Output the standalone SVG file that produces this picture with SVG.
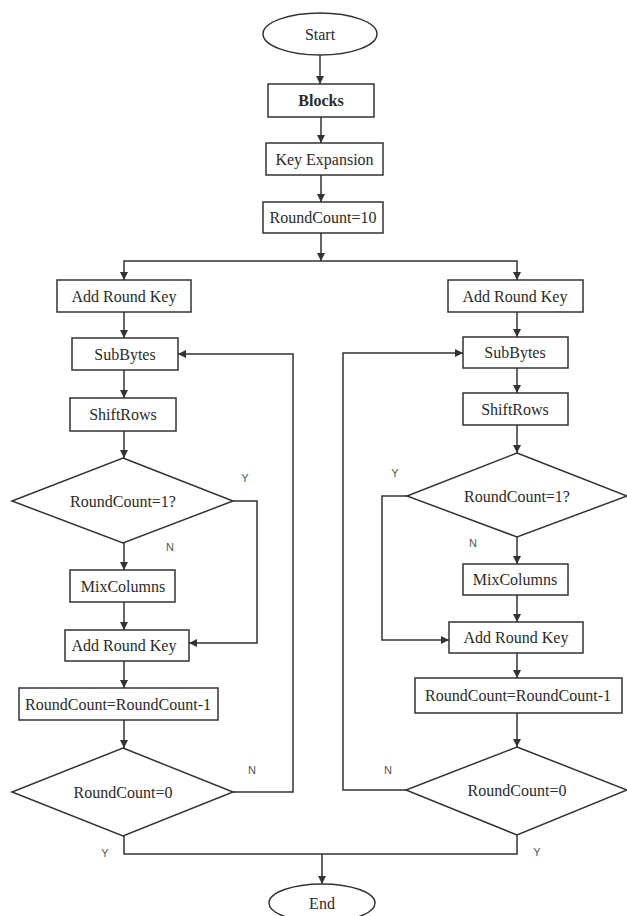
<svg xmlns="http://www.w3.org/2000/svg" width="627" height="916" viewBox="0 0 627 916">
<defs>
<marker id="ah" viewBox="0 0 10 10" refX="10" refY="5" markerWidth="8" markerHeight="8" markerUnits="userSpaceOnUse" orient="auto">
<path d="M0,0 L10,5 L0,10 z" fill="#333"/>
</marker>
</defs>
<style>
.shape{fill:#fff;stroke:#333;stroke-width:1.5}
.t{font-family:"Liberation Serif","Times New Roman",serif;font-size:16px;fill:#2a2a2a;text-anchor:middle;dominant-baseline:central}
.b{font-weight:bold}
.lab{font-family:"Liberation Sans",Arial,sans-serif;font-size:11px;fill:#555;text-anchor:middle;dominant-baseline:central}
.c{fill:none;stroke:#333;stroke-width:1.5}
.a{marker-end:url(#ah)}
</style>
<rect width="627" height="916" fill="#fff"/>
<g id="connectors">
<path class="c a" d="M320,55 V84"/>
<path class="c a" d="M321,117 V143"/>
<path class="c a" d="M321,175 V202"/>
<path class="c a" d="M321,233 V261"/>
<path class="c a" d="M321,261 H124 V280"/>
<path class="c a" d="M321,261 H517 V280"/>
<path class="c a" d="M124,312 V338"/>
<path class="c a" d="M124,370 V398"/>
<path class="c a" d="M124,431 V458"/>
<path class="c a" d="M124,543 V570"/>
<path class="c a" d="M233,501 H257 V643 H189"/>
<path class="c a" d="M124,602 V630"/>
<path class="c a" d="M124,661 V688"/>
<path class="c a" d="M124,720 V748"/>
<path class="c a" d="M233,792 H293 V354 H178"/>
<path class="c" d="M124,836 V854 H517 V835"/>
<path class="c a" d="M322,854 V884"/>
<path class="c a" d="M517,312 V337"/>
<path class="c a" d="M517,368 V393"/>
<path class="c a" d="M517,425 V453"/>
<path class="c a" d="M517,537 V564"/>
<path class="c a" d="M407,496 H382 V640 H449"/>
<path class="c a" d="M517,595 V622"/>
<path class="c a" d="M517,653 V678"/>
<path class="c a" d="M517,713 V747"/>
<path class="c a" d="M406,790 H343 V353 H463"/>
</g>
<g id="labels">
<text class="lab" x="245" y="478">Y</text>
<text class="lab" x="170" y="547">N</text>
<text class="lab" x="252" y="770">N</text>
<text class="lab" x="105" y="853">Y</text>
<text class="lab" x="395" y="473">Y</text>
<text class="lab" x="473" y="543">N</text>
<text class="lab" x="388" y="770">N</text>
<text class="lab" x="537" y="852">Y</text>
</g>
<g id="start"><ellipse class="shape" cx="320" cy="34" rx="57" ry="21"/><text class="t" x="320" y="34">Start</text></g>
<g id="blocks"><rect class="shape" x="268" y="84" width="106" height="33"/><text class="t b" x="321" y="100.5">Blocks</text></g>
<g id="keyexp"><rect class="shape" x="266" y="143" width="117" height="32"/><text class="t" x="324.5" y="159">Key Expansion</text></g>
<g id="rc10"><rect class="shape" x="263" y="202" width="120" height="31"/><text class="t" x="323" y="217.5">RoundCount=10</text></g>
<g id="ark1l"><rect class="shape" x="57" y="280" width="134" height="32"/><text class="t" x="124" y="296">Add Round Key</text></g>
<g id="subl"><rect class="shape" x="72" y="338" width="106" height="32"/><text class="t" x="125" y="354">SubBytes</text></g>
<g id="shiftl"><rect class="shape" x="70" y="398" width="106" height="33"/><text class="t" x="123" y="414.5">ShiftRows</text></g>
<g id="dec1l"><polygon class="shape" points="123,458 233,501 123,543 12,501"/><text class="t" x="123" y="501">RoundCount=1?</text></g>
<g id="mixl"><rect class="shape" x="70" y="570" width="105" height="32"/><text class="t" x="123" y="586">MixColumns</text></g>
<g id="ark2l"><rect class="shape" x="65" y="630" width="124" height="31"/><text class="t" x="124" y="645.5">Add Round Key</text></g>
<g id="decl"><rect class="shape" x="19" y="688" width="199" height="32"/><text class="t" x="118" y="704">RoundCount=RoundCount-1</text></g>
<g id="dec0l"><polygon class="shape" points="123,748 233,792 123,836 12,792"/><text class="t" x="123" y="792">RoundCount=0</text></g>
<g id="ark1r"><rect class="shape" x="448" y="280" width="135" height="32"/><text class="t" x="515" y="296">Add Round Key</text></g>
<g id="subr"><rect class="shape" x="463" y="337" width="105" height="31"/><text class="t" x="515" y="352.5">SubBytes</text></g>
<g id="shiftr"><rect class="shape" x="463" y="393" width="105" height="32"/><text class="t" x="515" y="409">ShiftRows</text></g>
<g id="dec1r"><polygon class="shape" points="517,453 627,496 517,537 407,496"/><text class="t" x="517" y="496">RoundCount=1?</text></g>
<g id="mixr"><rect class="shape" x="463" y="564" width="105" height="31"/><text class="t" x="515" y="579.5">MixColumns</text></g>
<g id="ark2r"><rect class="shape" x="449" y="622" width="134" height="31"/><text class="t" x="516" y="637.5">Add Round Key</text></g>
<g id="decr"><rect class="shape" x="415" y="678" width="207" height="35"/><text class="t" x="518" y="695.5">RoundCount=RoundCount-1</text></g>
<g id="dec0r"><polygon class="shape" points="517,747 627,790 517,835 406,790"/><text class="t" x="517" y="790">RoundCount=0</text></g>
<g id="end"><ellipse class="shape" cx="322" cy="903" rx="53" ry="19"/><text class="t" x="322" y="903">End</text></g>
</svg>
